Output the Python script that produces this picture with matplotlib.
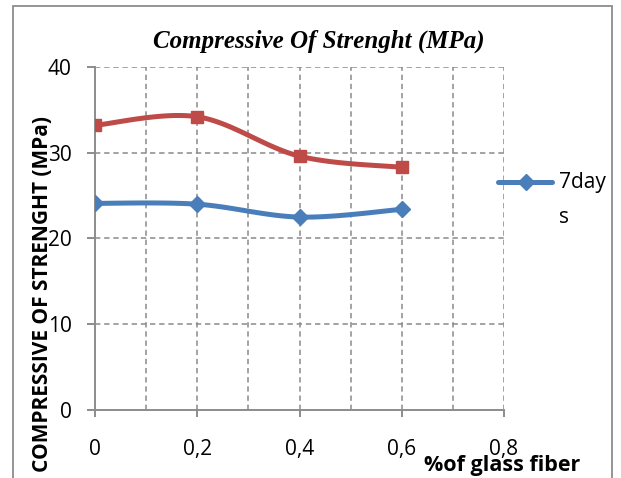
import matplotlib
matplotlib.use("Agg")
import matplotlib.pyplot as plt
import numpy as np
from matplotlib.lines import Line2D
from matplotlib.patches import Rectangle

# glass fibre content (%) and compressive strength (MPa)
fiber = [0.0, 0.2, 0.4, 0.6]
strength_7d = [24.1, 24.0, 22.5, 23.4]
strength_28d = [33.2, 34.2, 29.6, 28.3]
series_label = "7day\ns"

x_ticks = [0.0, 0.2, 0.4, 0.6, 0.8]
x_tick_labels = ["0", "0,2", "0,4", "0,6", "0,8"]
y_ticks = [0, 10, 20, 30, 40]

BLUE = "#4a7ebb"
RED = "#be4b48"
GRID = "#8a8a8a"
AXIS = "#8c8c8c"
NUM_FONT = "Open Sans"


def smooth(xs, ys, n=40):
    # Excel-style smoothed line: cubic Bezier segments with Catmull-Rom controls
    p = np.column_stack([xs, ys]).astype(float)
    pts = np.vstack([p[0], p, p[-1]])
    out = []
    t = np.linspace(0, 1, n)[:, None]
    for i in range(1, len(pts) - 2):
        p0, p1, p2, p3 = pts[i - 1], pts[i], pts[i + 1], pts[i + 2]
        b1 = p1 + (p2 - p0) / 6
        b2 = p2 - (p3 - p1) / 6
        seg = ((1 - t) ** 3) * p1 + 3 * ((1 - t) ** 2) * t * b1 \
            + 3 * (1 - t) * t ** 2 * b2 + t ** 3 * p2
        out.append(seg if i == 1 else seg[1:])
    out = np.vstack(out)
    return out[:, 0], out[:, 1]


W, H = 621, 478
fig = plt.figure(figsize=(W / 100, H / 100), dpi=100)
fig.patch.set_facecolor("white")

# outer chart border
fig.add_artist(Rectangle((13 / W, -0.05), (612 - 13) / W, 1.05 - 5.5 / H,
                         transform=fig.transFigure, fill=False,
                         edgecolor="#8c8c8c", linewidth=1.3))

ax = fig.add_axes([95 / W, 1 - 410 / H, (504 - 95) / W, (410 - 67) / H])

ax.set_xlim(0, 0.8)
ax.set_ylim(0, 40)

# dashed grid: every 0.1 on x, every 10 on y
for xv in np.arange(1, 9) * 0.1:
    ax.axvline(xv, color=GRID, linestyle=(0, (3.5, 2.5)), linewidth=1.1, zorder=0)
for yv in y_ticks[1:]:
    ax.axhline(yv, color=GRID, linestyle=(0, (3.5, 2.5)), linewidth=1.1, zorder=0)

for s in ("top", "right"):
    ax.spines[s].set_visible(False)
for s in ("left", "bottom"):
    ax.spines[s].set_color(AXIS)
    ax.spines[s].set_linewidth(1.4)

sx, sy = smooth(fiber, strength_28d)
ax.plot(sx, sy, color=RED, linewidth=3.6, solid_capstyle="round", zorder=3)
ax.plot(fiber, strength_28d, linestyle="none", marker="s", markersize=8.5,
        color=RED, zorder=4)

sx, sy = smooth(fiber, strength_7d)
ax.plot(sx, sy, color=BLUE, linewidth=3.6, solid_capstyle="round", zorder=3)
ax.plot(fiber, strength_7d, linestyle="none", marker="D", markersize=8,
        color=BLUE, zorder=4)

ax.set_xticks(x_ticks)
ax.set_xticklabels(x_tick_labels)
ax.set_yticks(y_ticks)
ax.tick_params(axis="x", direction="out", length=5, width=1.4, color=AXIS,
               pad=16, labelsize=15, labelcolor="black")
ax.tick_params(axis="y", direction="out", length=5.8, width=1.4, color=AXIS,
               pad=11, labelsize=15, labelcolor="black")
for lab in ax.get_xticklabels() + ax.get_yticklabels():
    lab.set_fontfamily(NUM_FONT)

fig.text(319 / W, 1 - 41 / H, "Compressive Of Strenght (MPa)",
         family="Liberation Serif", style="italic", weight="bold",
         fontsize=18, ha="center", va="center")

fig.text(43 / W, 1 - 294 / H, "COMPRESSIVE OF STRENGHT (MPa)",
         family=NUM_FONT, weight="bold", fontsize=15, rotation=90,
         ha="center", va="center")

fig.text(502 / W, 1 - 465 / H, "%of glass fiber", family=NUM_FONT,
         weight="bold", fontsize=15.5, ha="center", va="center")

# legend entry
fig.add_artist(Line2D([498 / W, 526 / W, 552 / W], [1 - 182 / H] * 3,
                      transform=fig.transFigure, color=BLUE, linewidth=3.6,
                      solid_capstyle="round", marker="D", markersize=8,
                      markevery=[1]))
fig.text(559 / W, 1 - 172 / H, series_label, family=NUM_FONT, fontsize=15,
         ha="left", va="top", linespacing=1.85)

fig.savefig("out.png", dpi=100)
